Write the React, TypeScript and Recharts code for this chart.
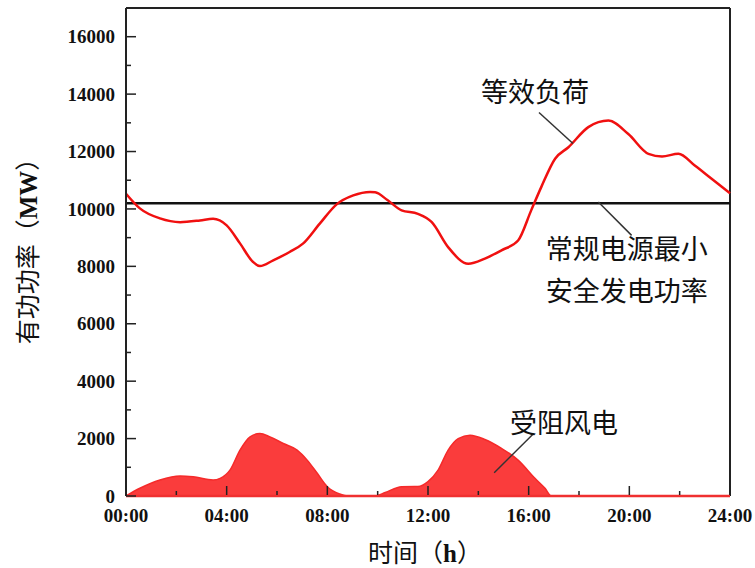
import React from 'react';
import { ComposedChart, Line, Area, XAxis, YAxis, ReferenceLine, ReferenceDot } from 'recharts';

// 等效负荷 (MW), hours
const loadHours = [0, 0.55, 1.35, 2.15, 2.94, 3.46, 4.0, 4.53, 5.05, 5.32, 5.85, 6.5, 7.03, 7.7, 8.37, 9.03, 9.7, 9.9, 10.4, 10.95, 11.6, 12.15, 12.8, 13.6, 14.26, 14.92, 15.58, 16.1, 16.5, 17.05, 17.58, 18.37, 19.17, 19.96, 20.76, 21.3, 21.95, 22.6, 23.27, 24];
const loadValues = [10530, 10020, 9670, 9540, 9600, 9660, 9430, 8800, 8150, 8010, 8210, 8500, 8790, 9490, 10160, 10470, 10590, 10580, 10300, 9950, 9830, 9540, 8670, 8090, 8270, 8560, 8900, 9950, 10760, 11750, 12150, 12850, 13080, 12610, 11920, 11830, 11920, 11510, 11050, 10550];

// 受阻风电 (MW)
const windHours = [0, 0.55, 1.35, 2.15, 2.67, 3.46, 3.74, 4.13, 4.53, 4.93, 5.32, 5.72, 6.25, 6.8, 7.2, 7.6, 8.0, 8.5, 8.8, 9.9, 10.3, 10.95, 11.6, 12.0, 12.4, 12.8, 13.2, 13.67, 14.26, 14.92, 15.58, 16.25, 16.65, 16.9, 20, 24];
const windValues = [0, 270, 560, 700, 670, 560, 615, 900, 1600, 2060, 2180, 2060, 1830, 1600, 1250, 790, 325, 70, 0, 0, 120, 325, 330, 500, 900, 1600, 2000, 2120, 1970, 1660, 1250, 615, 267, 0, 0, 0];

const minSafePower = 10200;

const yTicks = [0, 1000, 2000, 3000, 4000, 5000, 6000, 7000, 8000, 9000, 10000, 11000, 12000, 13000, 14000, 15000, 16000];
const xTicks = [0, 2, 4, 6, 8, 10, 12, 14, 16, 18, 20, 22, 24];

const loadData = loadHours.map((h, i) => ({ h, v: loadValues[i] }));
const windData = windHours.map((h, i) => ({ h, v: windValues[i] }));

const latin = '"Liberation Serif", "Times New Roman", serif';
const cjk = '"Noto Sans CJK SC", "Liberation Serif", serif';

const YTick = (props: any) => {
  const { x, y, payload } = props;
  const v = payload.value;
  const major = v % 2000 === 0;
  return (
    <g>
      <line x1={x} y1={y} x2={x + (major ? 10 : 5)} y2={y} stroke="#222" strokeWidth={1.5} />
      {major && (
        <text x={x - 11} y={y} dy="0.35em" textAnchor="end" fontFamily={latin} fontWeight="bold" fontSize={19} fill="#111">
          {v}
        </text>
      )}
    </g>
  );
};

const XTick = (props: any) => {
  const { x, y, payload } = props;
  const v = payload.value;
  const major = v % 4 === 0;
  const label = (v < 10 ? '0' + v : '' + v) + ':00';
  return (
    <g>
      <line x1={x} y1={y - 1} x2={x} y2={y - (major ? 10 : 5)} stroke="#222" strokeWidth={1.5} />
      {major && (
        <text x={x} y={y + 26} textAnchor="middle" fontFamily={latin} fontWeight="bold" fontSize={19} fill="#111">
          {label}
        </text>
      )}
    </g>
  );
};

const makeLabel = (lines: string[], dx: number, dy: number, anchor: string) => (props: any) => {
  const { viewBox } = props;
  const cx = viewBox.x + (viewBox.width || 0) / 2 + dx;
  const cy = viewBox.y + (viewBox.height || 0) / 2 + dy;
  return (
    <text x={cx} y={cy} textAnchor={anchor as any} fontFamily={cjk} fontSize={27} fill="#111">
      {lines.map((t, i) => (
        <tspan key={i} x={cx} dy={i === 0 ? '0.35em' : 42}>{t}</tspan>
      ))}
    </text>
  );
};

export default function App() {
  return (
    <div style={{ position: 'absolute', left: 0, top: 0, width: 755, height: 568, background: '#fff' }}>
      <ComposedChart width={755} height={568} margin={{ top: 8, right: 25, left: 66, bottom: 42 }}>
        <XAxis
          dataKey="h"
          type="number"
          domain={[0, 24]}
          ticks={xTicks}
          interval={0}
          tickSize={0}
          tickMargin={0}
          height={30}
          tick={<XTick />}
          axisLine={{ stroke: '#f03030', strokeWidth: 2.5 }}
          allowDuplicatedCategory={false}
        />
        <YAxis
          type="number"
          domain={[0, 17000]}
          ticks={yTicks}
          interval={0}
          tickSize={0}
          tickMargin={0}
          width={60}
          tick={<YTick />}
          axisLine={{ stroke: '#222', strokeWidth: 2 }}
          allowDataOverflow
        />
        <ReferenceLine y={17000} stroke="#222" strokeWidth={2} />
        <ReferenceLine x={24} stroke="#222" strokeWidth={2} />
        <Area
          data={windData}
          dataKey="v"
          type="monotone"
          stroke="#f52a2a"
          strokeWidth={1.5}
          fill="#fa3c3c"
          fillOpacity={1}
          isAnimationActive={false}
          dot={false}
          activeDot={false}
        />
        <ReferenceLine y={minSafePower} stroke="#111" strokeWidth={2.5} />
        <Line
          data={loadData}
          dataKey="v"
          type="monotone"
          stroke="#f01010"
          strokeWidth={2.5}
          dot={false}
          activeDot={false}
          isAnimationActive={false}
        />
        <ReferenceLine segment={[{ x: 16.41, y: 13360 }, { x: 17.76, y: 12280 }]} stroke="#333" strokeWidth={1.5} />
        <ReferenceLine segment={[{ x: 18.77, y: 10240 }, { x: 20.09, y: 9080 }]} stroke="#333" strokeWidth={1.5} />
        <ReferenceLine segment={[{ x: 16.18, y: 2160 }, { x: 14.63, y: 810 }]} stroke="#333" strokeWidth={1.5} />
        <ReferenceDot x={16.25} y={14050} r={0} fill="none" stroke="none" label={{ content: makeLabel(['等效负荷'], 0, 0, 'middle') }} />
        <ReferenceDot x={23.0} y={8600} r={0} fill="none" stroke="none" label={{ content: makeLabel(['常规电源最小', '安全发电功率'], -159, 0, 'start') }} />
        <ReferenceDot x={17.4} y={2520} r={0} fill="none" stroke="none" label={{ content: makeLabel(['受阻风电'], 0, 0, 'middle') }} />
      </ComposedChart>
      <svg width={755} height={568} style={{ position: 'absolute', left: 0, top: 0, pointerEvents: 'none' }}>
        <text transform="translate(37,245) rotate(-90)" textAnchor="middle" fontFamily={cjk} fontSize={25} fill="#111">
          有功功率（<tspan fontFamily={latin} fontWeight="bold">MW</tspan>）
        </text>
        <text x={425} y={562} textAnchor="middle" fontFamily={cjk} fontSize={25} fill="#111">
          时间（<tspan fontFamily={latin} fontWeight="bold">h</tspan>）
        </text>
      </svg>
    </div>
  );
}
